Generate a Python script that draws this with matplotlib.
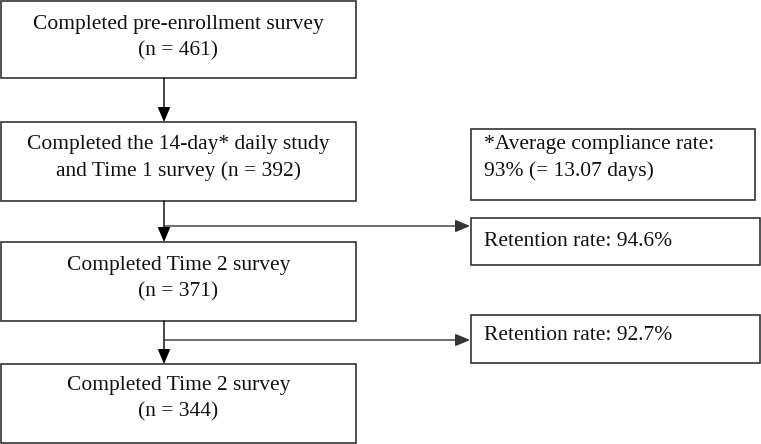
import matplotlib
matplotlib.use("Agg")
import matplotlib.pyplot as plt
from matplotlib.patches import Rectangle

# ---- content ----
main_titles = ["Completed pre-enrollment survey",
               "Completed the 14-day* daily study\nand Time 1 survey",
               "Completed Time 2 survey",
               "Completed Time 2 survey"]
main_counts = [461, 392, 371, 344]
side_texts = ["*Average compliance rate:\n93% (= 13.07 days)",
              "Retention rate: 94.6%",
              "Retention rate: 92.7%"]

# ---- layout (pixels) ----
W, H = 761, 444
main_x0, main_x1 = 1, 356
main_y = [(1, 78), (122, 201), (242, 321), (364, 443)]
main_text_y = [38, 158, 279, 399]
side_boxes = [(471, 755, 129, 200), (471, 760, 218, 265), (471, 760, 315, 363)]
side_text_y = [158, 241, 335]
stem_x = 164
branch_y = [226, 340]

fig = plt.figure(figsize=(W / 100, H / 100), dpi=100)
ax = fig.add_axes([0, 0, 1, 1])
ax.set_xlim(0, W)
ax.set_ylim(H, 0)
ax.axis("off")

FONT = "Liberation Serif"
FS = 15.5
LSP = 1.5
LW = 1.2
EC = "#333333"

def box(x0, x1, y0, y1):
    ax.add_patch(Rectangle((x0, y0), x1 - x0, y1 - y0, fill=False,
                           edgecolor=EC, linewidth=LW))

for i, (y0, y1) in enumerate(main_y):
    box(main_x0, main_x1, y0, y1)
    t = main_titles[i]
    n = main_counts[i]
    s = t + f" (n = {n})" if "\n" in t else t + f"\n(n = {n})"
    ax.text((main_x0 + main_x1) / 2, main_text_y[i], s, ha="center", va="center",
            fontsize=FS, family=FONT, linespacing=LSP, color="#111111")

for j, (x0, x1, y0, y1) in enumerate(side_boxes):
    box(x0, x1, y0, y1)
    ax.text(x0 + 13, side_text_y[j], side_texts[j], ha="left", va="center",
            fontsize=FS, family=FONT, linespacing=LSP, color="#111111")

arrow_kw = dict(arrowstyle="-|>,head_length=0.9,head_width=0.38",
                color="black", lw=1.0, shrinkA=0, shrinkB=0)

# vertical arrows between main boxes
for k in range(3):
    ax.annotate("", xy=(stem_x, main_y[k + 1][0]), xytext=(stem_x, main_y[k][1]),
                arrowprops=arrow_kw)

# branch arrows to the side boxes
for k, by in enumerate(branch_y):
    ax.annotate("", xy=(side_boxes[k + 1][0] - 1, by), xytext=(stem_x, by),
                arrowprops=dict(arrow_kw, color="#333333"))

fig.savefig("out.png", dpi=100)
